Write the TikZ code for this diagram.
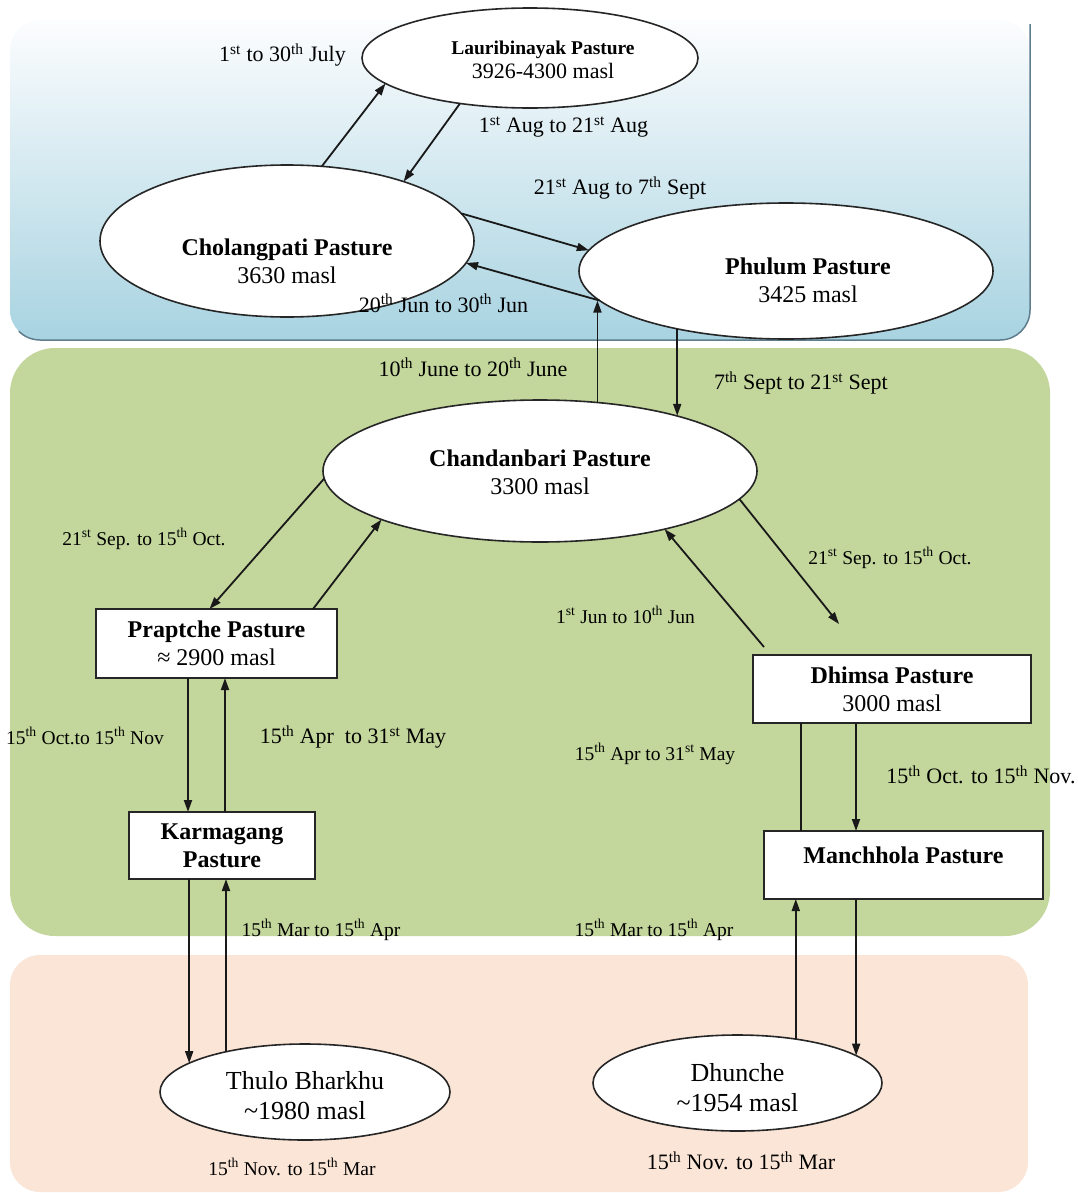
\documentclass[tikz,border=0pt]{standalone}
\usepackage{fontspec}
\setmainfont{Liberation Serif}
\usetikzlibrary{shapes.geometric,arrows.meta,calc}
\definecolor{bandtop}{RGB}{252,253,254}
\definecolor{bandmid}{RGB}{218,236,242}
\definecolor{bandbot}{RGB}{168,211,225}
\definecolor{bandline}{RGB}{95,125,140}
\definecolor{greenband}{RGB}{195,214,155}
\definecolor{peachband}{RGB}{251,229,214}
\newcommand\sps[1]{\textsuperscript{#1}}
\begin{document}
\begin{tikzpicture}[x=1pt,y=-1pt,
  ell/.style={ellipse,draw=black!85,line width=1.6pt,fill=white,inner sep=0pt,outer sep=0pt},
  box/.style={rectangle,draw=black!85,line width=1.6pt,fill=white,inner sep=0pt,outer sep=0pt,align=center,font=\fontsize{24}{28}\selectfont\bfseries},
  ttl/.style={align=center,inner sep=0pt,font=\fontsize{24}{28}\selectfont},
  big/.style={align=center,inner sep=0pt,font=\fontsize{26}{30}\selectfont},
  lab/.style={inner sep=0pt,font=\fontsize{22}{26}\selectfont},
  labs/.style={inner sep=0pt,font=\fontsize{19.5}{23}\selectfont},
  arr/.style={line width=1.8pt,draw=black!90,-{Triangle[length=12pt,width=8pt]}},
  ln/.style={line width=1.8pt,draw=black!90}]
\useasboundingbox (0,0) rectangle (1078,1194);
\fill[white] (0,0) rectangle (1078,1194);
% background bands
\shade[top color=bandtop, middle color=bandmid, bottom color=bandbot, rounded corners=30] (10,20) rectangle (1030,340);
\draw[bandline, line width=1.5pt] (1030,24) -- (1030,310) arc[start angle=0, end angle=90, radius=30] -- (40,340) arc[start angle=90, end angle=135, radius=30];
\fill[greenband, rounded corners=45] (10,348) rectangle (1050,936);
\fill[peachband, rounded corners=30] (10,955) rectangle (1028,1192);
% ellipse nodes
\node[ell, minimum width=336pt, minimum height=100pt,
  label={[ttl,font=\fontsize{22}{24}\selectfont,xshift=13pt,yshift=-2pt]center:{{\fontsize{19.5}{24}\selectfont\bfseries Lauribinayak Pasture}\\3926-4300 masl}}] (lau) at (530,58) {};
\node[ell, minimum width=374pt, minimum height=152pt,
  label={[ttl,yshift=-20pt]center:{\textbf{Cholangpati Pasture}\\3630 masl}}] (cho) at (287,241) {};
\node[ell, minimum width=414pt, minimum height=136pt,
  label={[ttl,xshift=22pt,yshift=-9pt]center:{\textbf{Phulum Pasture}\\3425 masl}}] (phu) at (786,271) {};
\node[ell, minimum width=434pt, minimum height=142pt,
  label={[ttl,yshift=-1pt]center:{\textbf{Chandanbari Pasture}\\3300 masl}}] (cha) at (540,471) {};
\node[ell, minimum width=290pt, minimum height=96pt,
  label={[big,yshift=-4pt]center:{Thulo Bharkhu\\\textasciitilde1980 masl}}] (thu) at (305,1092) {};
\node[ell, minimum width=289pt, minimum height=96pt,
  label={[big,yshift=-5pt]center:{Dhunche\\\textasciitilde1954 masl}}] (dhu) at (737.5,1083) {};
% box nodes
\node[box, minimum width=241pt, minimum height=69pt] (pra) at (216.5,643.5) {Praptche Pasture\\{\mdseries ≈ 2900 masl}};
\node[box, minimum width=278pt, minimum height=68pt] (dhi) at (892,689) {Dhimsa Pasture\\{\mdseries 3000 masl}};
\node[box, minimum width=186pt, minimum height=67pt] (kar) at (222,845.5) {Karmagang\\Pasture};
\node[box, minimum width=279pt, minimum height=68pt,
  label={[ttl,font=\fontsize{24}{28}\selectfont\bfseries,yshift=10pt]center:{Manchhola Pasture}}] (man) at (903.5,865) {};
% free ends
\coordinate (dtip) at ([xshift=86pt,yshift=31pt]dhi.north west);
\coordinate (dstart) at ([xshift=11pt,yshift=8pt]dhi.north west);
\coordinate (a1) at ([xshift=92pt]pra.south west);
\coordinate (a2) at ([xshift=96pt]kar.north west);
\coordinate (a3) at ([xshift=103pt]dhi.south west);
\coordinate (a4) at ([xshift=37pt]man.north west);
% connectors
\draw[arr] (cho.65) -- (lau.190);
\draw[arr] (lau.213) -- (cho.27);
\draw[arr] (cho.9) -- (phu.174);
\draw[arr] (phu.189) -- (cho.353);
\draw[arr] (cha.50) -- (cha.50 |- phu.189);
\draw[arr] (phu.208) -- (phu.208 |- cha.22);
\draw[arr] (cha.182) -- ([xshift=-7pt]pra.north);
\draw[arr] ([xshift=-24pt]pra.north east) -- (cha.197);
\draw[arr] (cha.352) -- (dtip);
\draw[arr] (dstart) -- (cha.335);
\draw[arr] (a1) -- (a1 |- kar.north);
\draw[arr] (a2) -- (a2 |- pra.south);
\draw[arr] (a3) -- (a3 |- man.north);
\draw[ln] (a4) -- (a4 |- dhi.south);
\draw[arr] (dhu.37) -- (dhu.37 |- man.south);
\draw[arr] (dhu.13 |- man.south) -- (dhu.13);
\draw[arr] (thu.166 |- kar.south) -- (thu.166);
\draw[arr] (thu.153) -- (thu.153 |- kar.south);
% labels
\node[lab] (l1) at (282.5,55) {1\sps{st} to 30\sps{th} July};
\node[lab] (l2) at (563.5,127) {1\sps{st} Aug to 21\sps{st} Aug};
\node[lab] (l3) at (620,188) {21\sps{st} Aug to 7\sps{th} Sept};
\node[lab] (l4) at (443.5,303) {20\sps{th} Jun to 30\sps{th} Jun};
\node[lab] (l5) at (473,367) {10\sps{th} June to 20\sps{th} June};
\node[lab] (l6) at (801,383) {7\sps{th} Sept to 21\sps{st} Sept};
\node[labs] (l7) at (144,539) {21\sps{st} Sep. to 15\sps{th} Oct.};
\node[labs] (l8) at (890,558) {21\sps{st} Sep. to 15\sps{th} Oct.};
\node[labs] (l9) at (625.5,615) {1\sps{st} Jun to 10\sps{th} Jun};
\node[labs] (l10) at (85,736) {15\sps{th} Oct.to 15\sps{th} Nov};
\node[lab] (l11) at (353,737) {15\sps{th} Apr\ \ to 31\sps{st} May};
\node[labs] (l12) at (655,754) {15\sps{th} Apr to 31\sps{st} May};
\node[lab] (l13) at (981,775) {15\sps{th} Oct. to 15\sps{th} Nov.};
\node[labs] (l14) at (321,930) {15\sps{th} Mar to 15\sps{th} Apr};
\node[labs] (l15) at (654,930) {15\sps{th} Mar to 15\sps{th} Apr};
\node[labs] (l16) at (292,1167) {15\sps{th} Nov. to 15\sps{th} Mar};
\node[lab] (l17) at (741,1161) {15\sps{th} Nov. to 15\sps{th} Mar};
\end{tikzpicture}
\end{document}
